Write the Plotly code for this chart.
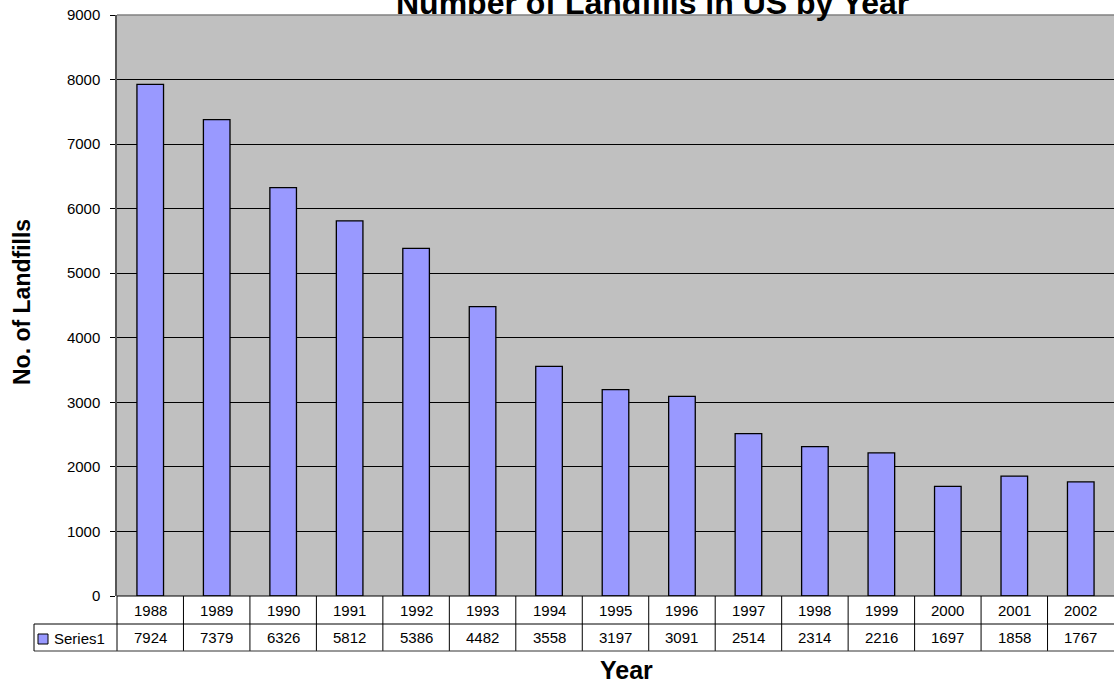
import plotly.graph_objects as go

years = ["1988", "1989", "1990", "1991", "1992", "1993", "1994", "1995",
         "1996", "1997", "1998", "1999", "2000", "2001", "2002"]
landfills = [7924, 7379, 6326, 5812, 5386, 4482, 3558, 3197,
             3091, 2514, 2314, 2216, 1697, 1858, 1767]
series_name = "Series1"
title_text = "Number of Landfills in US by Year"
x_title = "Year"
y_title = "No. of Landfills"

W, H = 1114, 687
L, R, T, B = 117, 0, 15, 91
PW = W - L - R
PH = H - T - B
FONT = "Liberation Sans, Arial, sans-serif"


def px(xp):
    return (xp - L) / PW


def py(yp):
    return (H - B - yp) / PH


fig = go.Figure()
fig.add_trace(go.Bar(
    x=years, y=landfills, name=series_name,
    marker=dict(color="#9999FF", line=dict(color="black", width=1.3)),
    width=0.4, showlegend=False,
))

shapes = []
annotations = []

n = len(years)
# table vertical lines
for i in range(n):
    xb = i / n
    shapes.append(dict(type="line", xref="paper", yref="paper",
                       x0=xb, x1=xb, y0=0, y1=py(651),
                       line=dict(color="black", width=1)))
# table horizontal lines
shapes.append(dict(type="line", xref="paper", yref="paper", x0=0, x1=1,
                   y0=0, y1=0, line=dict(color="black", width=1)))
shapes.append(dict(type="line", xref="paper", yref="paper", x0=px(34), x1=1,
                   y0=py(624), y1=py(624), line=dict(color="black", width=1)))
shapes.append(dict(type="line", xref="paper", yref="paper", x0=px(34), x1=1,
                   y0=py(651), y1=py(651), line=dict(color="#333333", width=1.2)))
shapes.append(dict(type="line", xref="paper", yref="paper", x0=px(34), x1=px(34),
                   y0=py(624), y1=py(651), line=dict(color="black", width=1)))
# legend key
shapes.append(dict(type="rect", xref="paper", yref="paper",
                   x0=px(38), x1=px(48), y0=py(634), y1=py(644),
                   fillcolor="#9999FF", line=dict(color="black", width=1)))
# plot area top border
shapes.append(dict(type="line", xref="paper", yref="paper", x0=0, x1=1,
                   y0=1, y1=1, line=dict(color="#808080", width=1.5)))

for i, (yr, v) in enumerate(zip(years, landfills)):
    annotations.append(dict(x=i, xref="x", y=py(610), yref="paper", text=yr,
                            showarrow=False, xanchor="center", yanchor="middle",
                            font=dict(family=FONT, size=15, color="black")))
    annotations.append(dict(x=i, xref="x", y=py(637), yref="paper", text=str(v),
                            showarrow=False, xanchor="center", yanchor="middle",
                            font=dict(family=FONT, size=15, color="black")))

annotations.append(dict(x=px(52), xref="paper", y=py(638), yref="paper",
                        text=series_name, showarrow=False, xanchor="left",
                        yanchor="middle",
                        font=dict(family=FONT, size=15, color="black")))
annotations.append(dict(x=px(652), xref="paper", y=py(3), yref="paper",
                        text="<b>" + title_text + "</b>", showarrow=False,
                        xanchor="center", yanchor="middle",
                        font=dict(family=FONT, size=32, color="black")))
annotations.append(dict(x=px(626), xref="paper", y=py(670), yref="paper",
                        text="<b>" + x_title + "</b>", showarrow=False,
                        xanchor="center", yanchor="middle",
                        font=dict(family=FONT, size=25, color="black")))
annotations.append(dict(x=px(22), xref="paper", y=py(302), yref="paper",
                        text="<b>" + y_title + "</b>", showarrow=False,
                        textangle=-90, xanchor="center", yanchor="middle",
                        font=dict(family=FONT, size=23, color="black")))

fig.update_layout(
    width=W, height=H, autosize=False,
    margin=dict(l=L, r=R, t=T, b=B, pad=0),
    paper_bgcolor="white", plot_bgcolor="#C0C0C0",
    font=dict(family=FONT, size=15, color="black"),
    bargap=0.6,
    shapes=shapes, annotations=annotations,
    xaxis=dict(type="category", showticklabels=False, showgrid=False,
               zeroline=False, showline=False, ticks="",
               range=[-0.5, n - 0.5], fixedrange=True),
    yaxis=dict(range=[0, 9000], dtick=1000, tick0=0, showgrid=True,
               gridcolor="black", gridwidth=1, zeroline=False,
               showline=True, linecolor="#555555", linewidth=1.5,
               ticks="outside", ticklen=5, tickcolor="black", tickwidth=1,
               ticklabelstandoff=7,
               tickfont=dict(family=FONT, size=15, color="black"),
               fixedrange=True),
)

fig.write_html("out.html")
